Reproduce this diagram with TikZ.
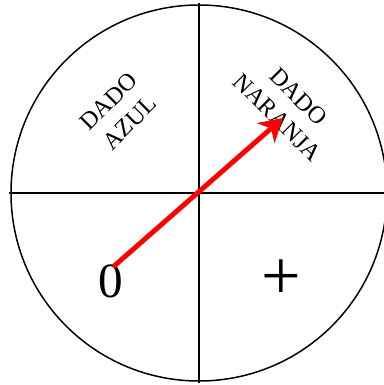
\documentclass[tikz,border=0pt]{standalone}
\usepackage{fontspec}
\setmainfont{Liberation Serif}
\usetikzlibrary{arrows.meta}
\tikzset{>=Stealth,every node/.style={font=\fontsize{13.8}{17}\selectfont,align=center},rim/.style={line width=.85pt},pointer/.style={draw=red,line width=2.8pt,-{Stealth[length=13pt,width=15pt,inset=4pt]}},sign/.style={font=\fontsize{28}{30}\selectfont}}

\begin{document}
\begin{tikzpicture}[x=.02cm,y=.02cm]
\useasboundingbox (-199,-192) rectangle (185,193);
\coordinate (c) at (0,0);
\draw[rim] (c) circle(188);\draw[rim] (-190,0)--(190,0);\draw[rim] (0,-190)--(0,190);
\node[rotate=45] (azul) at (-80,81){DADO\\AZUL};
\node[rotate=-45] (naranja) at (89,86){DADO\\NARANJA};
\node[sign] (cero) at (-88,-88){0};\node[sign,font=\fontsize{40}{40}\selectfont] (mas) at (82,-87){+};
\coordinate (start) at (-86,-74);\coordinate (tip) at (84,75);
\draw[pointer] (start)--(tip);
\end{tikzpicture}
\end{document}
